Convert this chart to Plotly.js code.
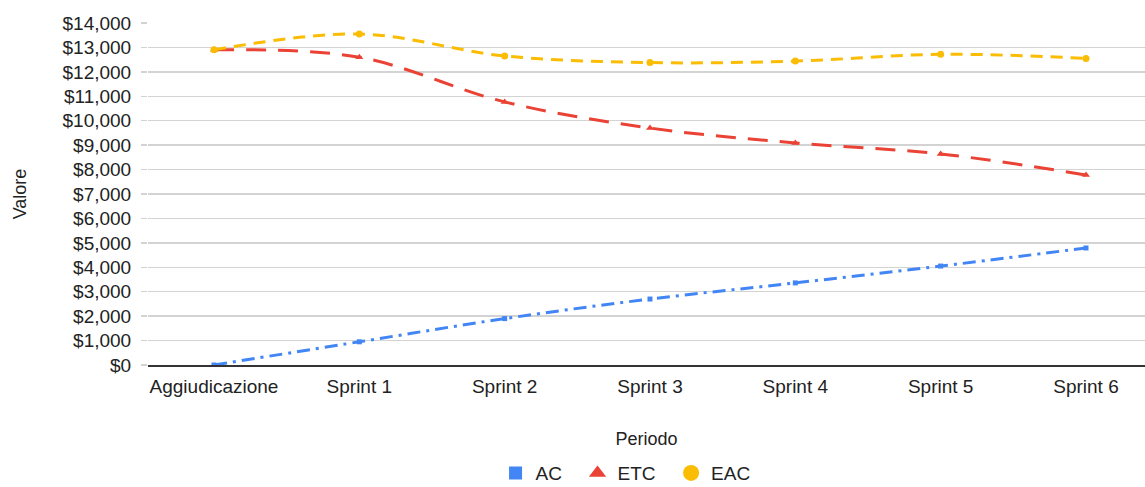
<!DOCTYPE html>
<html>
<head>
<meta charset="utf-8">
<script src="https://cdn.plot.ly/plotly-3.0.1.min.js"></script>
<style>html,body{margin:0;padding:0;background:#fff;}</style>
</head>
<body>
<div id="chart" style="width:1145px;height:487px;"></div>
<script>
const periods = ["Aggiudicazione", "Sprint 1", "Sprint 2", "Sprint 3", "Sprint 4", "Sprint 5", "Sprint 6"];
const acValues = [0, 950, 1900, 2700, 3360, 4050, 4790];
const etcValues = [12900, 12600, 10770, 9700, 9090, 8640, 7780];
const eacValues = [12900, 13550, 12650, 12380, 12440, 12720, 12550];
const yTicks = [0,1000,2000,3000,4000,5000,6000,7000,8000,9000,10000,11000,12000,13000,14000];
const yTickLabels = ["$0","$1,000","$2,000","$3,000","$4,000","$5,000","$6,000","$7,000","$8,000","$9,000","$10,000","$11,000","$12,000","$13,000","$14,000"];
const seriesNames = ["AC", "ETC", "EAC"];

const colAC = "#4285F4", colETC = "#EA4335", colEAC = "#FBBC04";
const xIdx = periods.map((_, i) => i);
const txt = "#222";
const pad = "\u00a0\u00a0";

const traces = [
  {x: xIdx, y: acValues, name: seriesNames[0], mode: "lines+markers", showlegend: false,
   line: {color: colAC, width: 3, dash: "13px,6px,3px,6px", shape: "spline", smoothing: 1},
   marker: {symbol: "square", size: 5, color: colAC}},
  {x: xIdx, y: etcValues, name: seriesNames[1], mode: "lines+markers", showlegend: false,
   line: {color: colETC, width: 3, dash: "20px,12px", shape: "spline", smoothing: 1},
   marker: {symbol: "triangle-up", size: 7, color: colETC}},
  {x: xIdx, y: eacValues, name: seriesNames[2], mode: "lines+markers", showlegend: false,
   line: {color: colEAC, width: 3, dash: "12px,8px", shape: "spline", smoothing: 1},
   marker: {symbol: "circle", size: 7, color: colEAC}},
  {x: [null], y: [null], name: seriesNames[0] + pad, mode: "markers", marker: {symbol: "square", size: 13, color: colAC}},
  {x: [null], y: [null], name: seriesNames[1] + pad, mode: "markers", marker: {symbol: "triangle-up", size: 15, color: colETC}},
  {x: [null], y: [null], name: seriesNames[2], mode: "markers", marker: {symbol: "circle", size: 16, color: colEAC}}
];

const layout = {
  width: 1145, height: 487,
  margin: {l: 148, r: 0, t: 23, b: 122, autoexpand: false},
  paper_bgcolor: "#fff", plot_bgcolor: "#fff",
  font: {family: "Liberation Sans, Arial, sans-serif", size: 19, color: txt},
  showlegend: true,
  legend: {orientation: "h", x: 0.479, xanchor: "center", y: -0.316, yanchor: "middle",
           font: {size: 19, color: txt}, itemclick: false},
  xaxis: {
    range: [-0.454, 6.406], tickmode: "array", tickvals: xIdx, ticktext: periods,
    showgrid: false, zeroline: false, showline: true, linecolor: "#333", linewidth: 1.5,
    ticks: "", tickfont: {size: 19, color: txt}, automargin: false, ticklabelstandoff: 4,
    title: {text: "Periodo", font: {size: 18, color: txt}, standoff: 36}
  },
  yaxis: {
    range: [0, 14000], tickmode: "array", tickvals: yTicks, ticktext: yTickLabels,
    showgrid: true, gridcolor: "#d3d3d3", gridwidth: 1.5, zeroline: false, automargin: false,
    ticks: "outside", ticklen: 6, tickcolor: "#d3d3d3", tickwidth: 1.5, ticklabelstandoff: 6,
    tickfont: {size: 19, color: txt},
    title: {text: "Valore", font: {size: 18, color: txt}, standoff: 31}
  }
};

Plotly.newPlot("chart", traces, layout, {displayModeBar: false, staticPlot: true});
</script>
</body>
</html>
